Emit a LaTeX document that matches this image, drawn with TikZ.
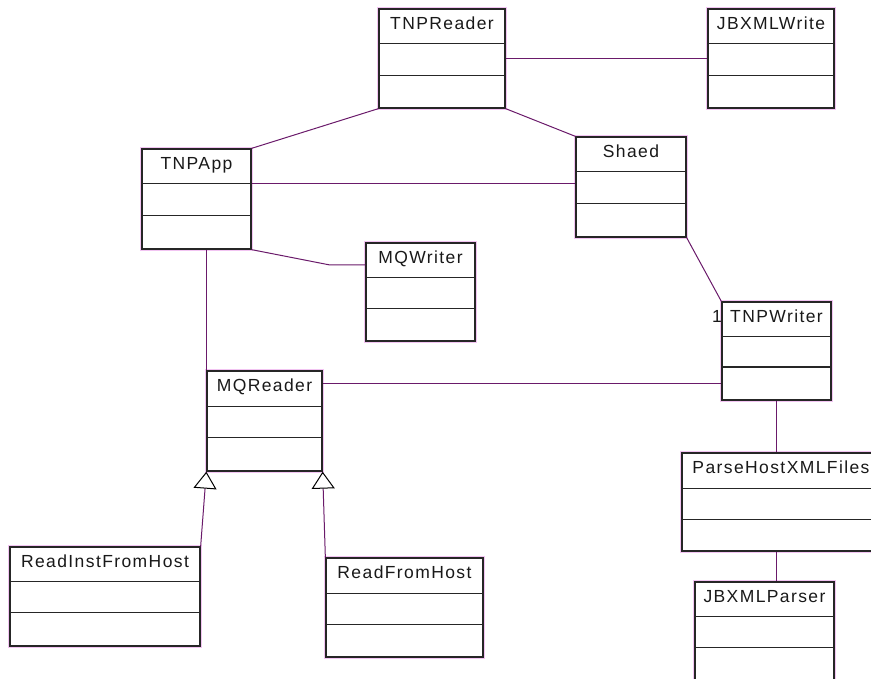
\documentclass[tikz,border=0pt]{standalone}
\usepackage{fontspec}
\newfontfamily\umlfont{Liberation Sans}[LetterSpace=8]
\usetikzlibrary{arrows.meta,fit}
\definecolor{linkcol}{HTML}{6A1A6A}
\definecolor{halo}{HTML}{F2C4F2}
\tikzset{
  classbox/.style={draw=black!85, line width=1.3pt, fill=white, inner sep=0pt},
  halobox/.style={draw=halo, line width=1.2pt},
  sep/.style={draw=black!85, line width=1pt},
  titletext/.style={font=\umlfont\fontsize{17.5}{19}\selectfont, text=black!90, anchor=base, inner sep=0pt},
  link/.style={draw=linkcol, line width=1pt},
  genarrow/.style={link, -{Triangle[length=17pt,width=23pt,fill=white,color=black,line width=1pt]}},
}
\newcommand{\umlclass}[8]{%
  \draw[halobox] (#2-1.5,#3-1.5) rectangle (#4+1.8,#5+1.8);
  \node[classbox, fit={(#2,#3) (#4,#5)}] (#1) {};
  \draw[sep] (#2,#6) -- (#4,#6);
  \draw[sep] (#2,#7) -- (#4,#7);
  \node[titletext] (#1-title) at ({(#2+#4)/2},#3+20.5) {#8};
}
\begin{document}
\begin{tikzpicture}[x=1pt,y=-1pt]
\useasboundingbox (0,0) rectangle (871,679);
\begin{scope}
\clip (0,0) rectangle (871,679);
% classes
\umlclass{tnpreader}{379}{9}{505}{108}{44}{76}{TNPReader}
\umlclass{jbxmlwrite}{708}{9}{834}{108}{44}{76}{JBXMLWrite}
\umlclass{tnpapp}{142}{149}{251}{249}{184}{216}{TNPApp}
\umlclass{shaed}{576}{137}{686}{237}{172}{204}{Shaed}
\umlclass{mqwriter}{366}{243}{475}{341}{278}{309}{MQWriter}
\umlclass{tnpwriter}{722}{302}{831}{400}{337}{367}{TNPWriter}
\umlclass{mqreader}{207}{371}{322}{471}{406}{437}{MQReader}
\umlclass{readinst}{10}{547}{200}{646}{581}{612}{ReadInstFromHost}
\umlclass{readfrom}{326}{558}{483}{657}{593}{624}{ReadFromHost}
\umlclass{parsehost}{682}{453}{880}{551}{488}{519}{ParseHostXMLFiles}
\umlclass{jbxmlparser}{695}{582}{834}{712}{616}{647}{JBXMLParser}
% connectors
\coordinate (mqbend) at (330,265);
\draw[link] (tnpreader.east) -- (jbxmlwrite.west);
\draw[link] (tnpreader.south west) -- (tnpapp.north east);
\draw[link] (tnpreader.south east) -- (shaed.north west);
\draw[link] (tnpapp.east |- 0,184) -- (shaed.west |- 0,184);
\draw[link] (tnpapp.south east) -- (mqbend) -- (mqwriter.west |- mqbend);
\draw[link] (mqreader.north west |- tnpapp.south) -- (mqreader.north west);
\draw[link] (mqreader.east |- 0,383) -- (tnpwriter.west |- 0,383);
\draw[link] (shaed.south east) -- (tnpwriter.north west);
\draw[link] (tnpwriter.south) -- (tnpwriter.south |- parsehost.north);
\draw[link] (tnpwriter.south |- parsehost.south) -- (tnpwriter.south |- jbxmlparser.north);
\draw[genarrow] (readinst.north east) -- (mqreader.south west);
\draw[genarrow] (readfrom.north west) -- (mqreader.south east);
\node[titletext, anchor=base east] (mult) at (722,323) {1};
\end{scope}
\end{tikzpicture}
\end{document}
